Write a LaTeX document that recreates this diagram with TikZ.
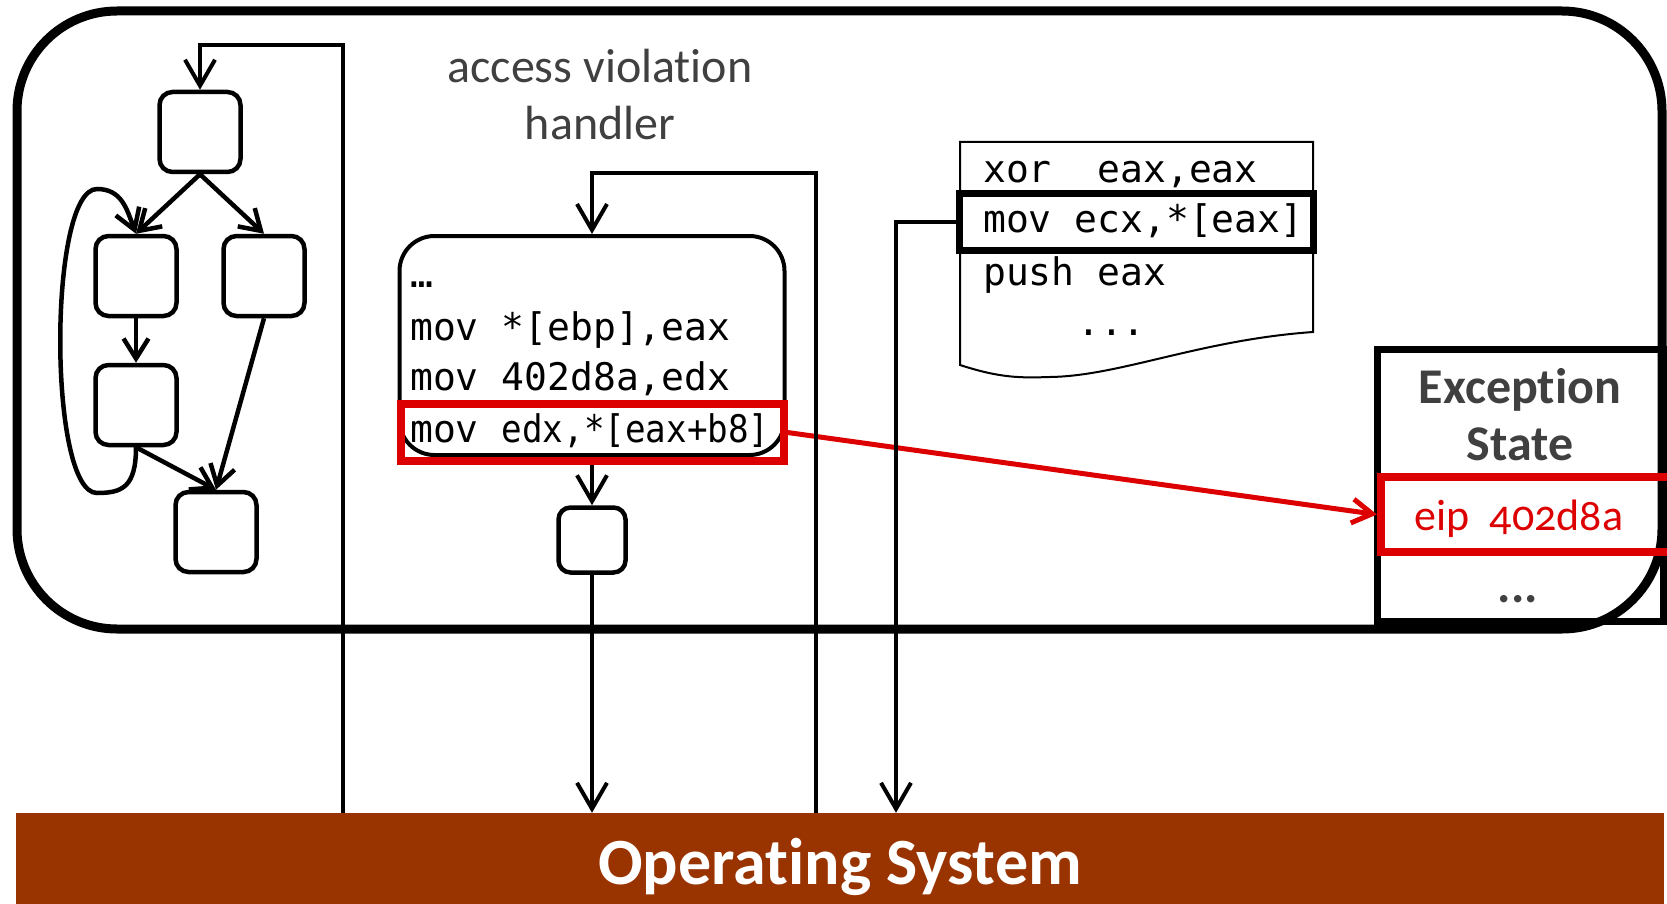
\documentclass[tikz,border=0pt]{standalone}
\usepackage{fontspec}
\usepackage{graphicx}
\setmainfont{Carlito}[Ligatures={NoCommon,NoContextual}]
\setmonofont{DejaVu Sans Mono}
\newfontfamily\oldnum{Carlito}[Numbers=OldStyle]
\usetikzlibrary{arrows.meta}

\definecolor{osbrown}{RGB}{153,51,0}
\definecolor{hitred}{RGB}{221,0,0}
\definecolor{capgray}{RGB}{64,64,64}

\tikzset{
    blk/.style={draw, line width=4.5pt, rounded corners=13pt, minimum width=81pt, minimum height=80pt, inner sep=0pt},
    edge/.style={line width=4.5pt, -{Straight Barb[length=20pt,width=25pt]}},
    flow/.style={line width=4pt, -{Straight Barb[length=26pt,width=30pt]}},
    hitarrow/.style={draw=hitred, line width=5pt, -{Straight Barb[length=20pt,width=24pt]}},
    code/.style={font=\fontsize{38}{46}\selectfont\ttfamily, anchor=base west, inner sep=0pt},
    caption/.style={font=\fontsize{48}{56}\selectfont, text=capgray, anchor=base, inner sep=0pt},
    title/.style={font=\bfseries\fontsize{50}{57}\selectfont, text=capgray, anchor=base, inner sep=0pt}
}

\begin{document}
\begin{tikzpicture}[x=1pt, y=-1pt]
    \useasboundingbox (0,0) rectangle (1667,904);
    \node[draw, line width=9pt, rounded corners=100pt, minimum width=1645pt, minimum height=618pt] (prog) at (839.5,320) {};

    % control flow graph
    \node[blk] (b0) at (200,132) {};
    \node[blk] (b1) at (136,276) {};
    \node[blk] (b2) at (264,276) {};
    \node[blk] (b3) at (136,405) {};
    \node[blk] (b4) at (216,532) {};
        \draw[edge] (b0.south) to (b1.north);
        \draw[edge] (b0.south) to (b2.north);
        \draw[edge] (b1.south) to (b3.north);
        \draw[edge] (b3.south) to (b4.north);
        \draw[edge] (b2.south) to (b4.north);
        \draw[edge] (b3.south) .. controls +(0,40) and +(25,0) .. (97,493)
            .. controls +(-49,0) and +(-49,0) .. (97,189)
            .. controls +(25,0) and +(-9,-24) .. (b1.north);

    % handler
    \node[caption] (av1) at (600,83) {access violation};
    \node[caption] (av2) at (600,140) {handler};
    \node[draw, line width=4pt, rounded corners=35pt, minimum width=385pt, minimum height=219pt] (hdl) at (592,345.5) {};
        \node[code] (l0) at (410,287) {…};
        \node[code] (l1) at (410,340) {mov *[ebp],eax};
        \node[code] (l2) at (410,390) {mov 402d8a,edx};
        \node[code] (l3) at (410,442) {mov \scalebox{0.9}[1]{edx,*[eax+b8]}};
    \node[draw=hitred, line width=8pt, minimum width=383pt, minimum height=57pt] (hit) at (592,432.5) {};
    \node[blk, minimum width=67pt, minimum height=65pt, rounded corners=12pt] (sm) at (592,540) {};
        \draw[flow] (hit.south) to (sm.north);

    % faulting code
    \draw[line width=2pt] (960,142) -- (1313,142) -- (1313,332)
        .. controls (1200,340) and (1120,376) .. (1050,377)
        .. controls (1020,378) and (1000,378) .. (960,365) -- cycle;
        \node[code] (c1) at (983,183) {xor\ \ eax,eax};
        \node[code] (c2) at (983,232) {mov ecx,*[eax]};
        \node[code] (c3) at (983,285) {push eax};
        \node[code] (c4) at (1077,335) {...};
    \node[draw, line width=7pt, minimum width=354pt, minimum height=56pt] (ecx) at (1136,222) {};

    % exception state
    \node[draw, line width=7pt, minimum width=286pt, minimum height=272pt] (exc) at (1520,485) {};
        \node[title] (exc1) at (1520,403) {Except\kern0pt ion};
        \node[title] (exc2) at (1520,460) {State};
    \node[draw=hitred, line width=8pt, minimum width=300pt, minimum height=75pt, anchor=west] (eip) at (1377,514.5) {};
        \node[anchor=base, inner sep=0pt, text=hitred, font=\oldnum\fontsize{44}{50}\selectfont] (eiptxt) at (1519,530) {eip\ \ 402d8a};
        \node[title] (excmore) at (1518,602) {...};
    \draw[hitarrow] (hit.east) to (eip.west);

    % operating system
    \node[fill=osbrown, minimum width=1648pt, minimum height=91pt, inner sep=0pt] (os) at (840,858.5) {};
        \node[anchor=base, inner sep=0pt, text=white, font=\bfseries\fontsize{66}{70}\selectfont] (ostitle) at (840,884) {Operat\kern0pt ing System};

    \coordinate (cfgup) at (343,45);
    \coordinate (hdlup) at (816,173);
    \coordinate (docdn) at (896,0);
        \draw[flow] (os.north -| cfgup) to (cfgup) -| (b0.north);
        \draw[flow] (os.north -| hdlup) to (hdlup) -| (hdl.north);
        \draw[flow] (ecx.west) -| (os.north -| docdn);
        \draw[flow] (sm.south) to (sm.south |- os.north);
\end{tikzpicture}
\end{document}
